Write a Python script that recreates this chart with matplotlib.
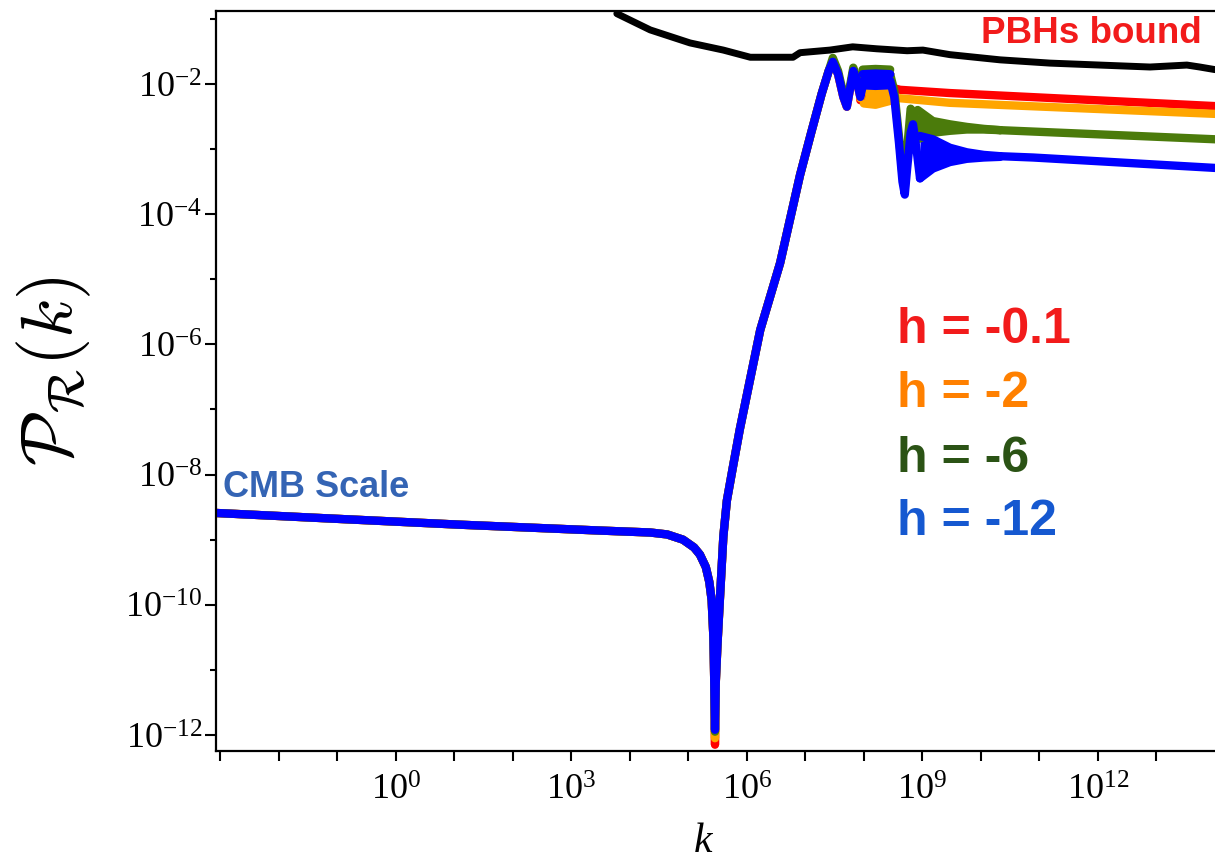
import numpy as np
import matplotlib.pyplot as plt
from matplotlib.ticker import FixedLocator, FuncFormatter, NullLocator, NullFormatter

plt.rcParams['mathtext.fontset'] = 'custom'
plt.rcParams['mathtext.rm'] = 'Liberation Serif'
plt.rcParams['mathtext.it'] = 'Liberation Serif:italic'

# ---- data (log10 k, log10 P) ----
# CMB plateau down into the dip, shared by every h
logk_left = [-3.07, -1.0, 1.10, 3.49, 4.35, 4.64, 4.91, 5.10, 5.20, 5.30, 5.36, 5.40, 5.43, 5.445]
logp_left = [-8.59, -8.68, -8.77, -8.86, -8.89, -8.92, -9.00, -9.12, -9.23, -9.42, -9.65, -9.93, -10.5, -11.2]

# bottom of the dip for each h
logk_dip = 5.457
dip_red, dip_orange, dip_green, dip_blue = -12.15, -12.05, -11.95, -11.92

# steep growth up to the first peak, shared
logk_rise = [5.47, 5.50, 5.54, 5.60, 5.66, 5.77, 5.88, 6.23, 6.57, 6.91, 7.10, 7.28, 7.40]
logp_rise = [-11.2, -10.6, -9.93, -8.95, -8.40, -7.85, -7.31, -5.78, -4.75, -3.40, -2.75, -2.15, -1.80]

# first peak and oscillations (h = -0.1, -2, -12 share this part)
logk_osc = [7.47, 7.56, 7.65, 7.71, 7.77, 7.82, 7.88, 7.94]
logp_osc = [-1.66, -1.85, -2.20, -2.35, -2.05, -1.80, -1.95, -2.20]
logp_osc_green = [-1.60, -1.80, -2.15, -2.30, -2.00, -1.75, -1.90, -2.15]

# h = -0.1
logk_red = [7.94, 8.00, 8.25, 8.45, 8.62, 9.47, 14.0]
logp_red = [-2.25, -2.00, -2.02, -2.05, -2.09, -2.14, -2.34]

# h = -2
logk_orange = [7.94, 8.00, 8.45, 8.62, 9.47, 14.0]
logp_orange = [-2.22, -2.05, -2.22, -2.22, -2.29, -2.46]
logk_orange_band = [8.00, 8.20, 8.45]
orange_band_lo = [-2.30, -2.32, -2.26]
orange_band_hi = [-2.05, -2.08, -2.12]

# h = -6
logk_green = [7.94, 8.00, 8.45, 8.52, 8.60, 8.66, 8.70, 8.74, 8.80, 8.86, 8.92]
logp_green = [-2.15, -1.90, -1.85, -2.10, -2.80, -3.40, -3.60, -3.00, -2.38, -2.45, -2.75]
logk_green_band = [8.92, 9.18, 9.47, 9.76, 10.05, 10.33]
green_band_lo = [-2.85, -2.75, -2.72, -2.70, -2.70, -2.71]
green_band_hi = [-2.40, -2.57, -2.62, -2.66, -2.69, -2.71]
logk_green_end = [10.33, 14.0]
logp_green_end = [-2.71, -2.85]

# h = -12
logk_blue = [7.94, 8.00, 8.45, 8.52, 8.60, 8.66, 8.70, 8.74, 8.80, 8.84, 8.90, 8.96]
logp_blue = [-2.20, -1.95, -1.95, -2.20, -2.90, -3.50, -3.70, -3.30, -2.75, -2.62, -3.00, -3.45]
logk_blue_band = [8.96, 9.18, 9.47, 9.76, 10.05, 10.33]
blue_band_lo = [-3.45, -3.30, -3.20, -3.15, -3.13, -3.12]
blue_band_hi = [-2.80, -2.85, -2.98, -3.05, -3.09, -3.11]
logk_blue_end = [10.33, 10.89, 14.0]
logp_blue_end = [-3.11, -3.13, -3.29]

# early fuzzy stretch after the first peak
logk_early_band = [7.98, 8.20, 8.45]
early_band_lo = [-2.02, -2.03, -2.02]
early_band_hi = [-1.85, -1.84, -1.85]

# PBH upper bound
logk_pbh = [3.78, 4.35, 5.03, 5.60, 6.06, 6.79, 6.91, 7.42, 7.81, 8.22, 8.74, 9.01, 9.47,
            10.33, 11.18, 12.03, 12.89, 13.52, 13.74, 14.0]
logp_pbh = [-0.92, -1.17, -1.37, -1.48, -1.59, -1.59, -1.52, -1.48, -1.43, -1.46, -1.49, -1.48, -1.55,
            -1.63, -1.68, -1.71, -1.74, -1.71, -1.74, -1.78]

c_red, c_orange, c_green, c_blue = '#ff0000', '#ffa500', '#4b7b0b', '#0000ff'
LW = 6


def full_curve(dip, osc_p, tail_k, tail_p):
    lk = logk_left + [logk_dip] + logk_rise + logk_osc + tail_k
    lp = logp_left + [dip] + logp_rise + osc_p + tail_p
    return 10.0 ** np.array(lk), 10.0 ** np.array(lp)


def line(ax, lk, lp, color, lw=LW):
    ax.plot(10.0 ** np.array(lk), 10.0 ** np.array(lp), color=color, lw=lw,
            solid_joinstyle='round', solid_capstyle='round')


def band(ax, lk, lo, hi, color):
    k = 10.0 ** np.array(lk)
    ax.fill_between(k, 10.0 ** np.array(lo), 10.0 ** np.array(hi), color=color, lw=0)
    line(ax, lk, lo, color)
    line(ax, lk, hi, color)


fig = plt.figure(figsize=(12.15, 8.63), dpi=100)
ax = fig.add_axes([0.1778, 0.1298, 0.8222, 0.8575])
ax.set_xscale('log')
ax.set_yscale('log')

# black PBH bound
line(ax, logk_pbh, logp_pbh, 'black', lw=5)

# h = -0.1
k, p = full_curve(dip_red, logp_osc, logk_red, logp_red)
ax.plot(k, p, color=c_red, lw=LW, solid_joinstyle='round', solid_capstyle='round')
band(ax, logk_early_band, early_band_lo, early_band_hi, c_red)

# h = -2
k, p = full_curve(dip_orange, logp_osc, logk_orange, logp_orange)
ax.plot(k, p, color=c_orange, lw=LW, solid_joinstyle='round', solid_capstyle='round')
band(ax, logk_orange_band, orange_band_lo, orange_band_hi, c_orange)

# h = -6
k, p = full_curve(dip_green, logp_osc_green, logk_green, logp_green)
ax.plot(k, p, color=c_green, lw=LW, solid_joinstyle='round', solid_capstyle='round')
band(ax, logk_early_band, [v + 0.05 for v in early_band_lo], [v + 0.07 for v in early_band_hi], c_green)
band(ax, logk_green_band, green_band_lo, green_band_hi, c_green)
line(ax, logk_green_end, logp_green_end, c_green)

# h = -12
k, p = full_curve(dip_blue, logp_osc, logk_blue, logp_blue)
ax.plot(k, p, color=c_blue, lw=LW, solid_joinstyle='round', solid_capstyle='round')
band(ax, logk_early_band, early_band_lo, early_band_hi, c_blue)
band(ax, logk_blue_band, blue_band_lo, blue_band_hi, c_blue)
line(ax, logk_blue_end, logp_blue_end, c_blue)

ax.set_xlim(10 ** -3.068, 10 ** 14.0)
ax.set_ylim(10 ** -12.246, 10 ** -0.879)

# ticks: every decade on k, labels every third decade (10^0 .. 10^12)
x_labelled = [0, 3, 6, 9, 12]
ax.xaxis.set_major_locator(FixedLocator(10.0 ** np.arange(-3, 14)))
ax.xaxis.set_minor_locator(NullLocator())
ax.xaxis.set_major_formatter(FuncFormatter(
    lambda v, pos: r'$10^{%d}$' % round(np.log10(v)) if round(np.log10(v)) in x_labelled else ''))
ax.yaxis.set_major_locator(FixedLocator(10.0 ** np.arange(-12, -1, 2)))
ax.yaxis.set_minor_locator(FixedLocator(10.0 ** np.arange(-11, 0, 2)))
ax.yaxis.set_major_formatter(FuncFormatter(lambda v, pos: r'$10^{%d}$' % round(np.log10(v))))
ax.yaxis.set_minor_formatter(NullFormatter())

ax.tick_params(which='both', direction='out', width=1.5, labelsize=26, colors='black')
ax.tick_params(axis='x', which='major', length=7, pad=9)
ax.tick_params(axis='y', which='major', length=8, pad=2)
ax.tick_params(axis='y', which='minor', length=4.5)

ax.spines['right'].set_visible(False)
for s in ['left', 'bottom', 'top']:
    ax.spines[s].set_linewidth(1.6)

# axis labels
fig.text(54 / 1215, 1 - 371 / 863, r'$\mathcal{P}_{\mathcal{R}}(k)$', rotation=90,
         ha='center', va='center', fontsize=52, math_fontfamily='cm')
fig.text(704 / 1215, 1 - 840 / 863, r'$k$', ha='center', va='center', fontsize=30)

# annotations
bold = dict(family='Liberation Sans', weight='bold')
fig.text(1202 / 1215, 1 - 43 / 863, 'PBHs bound', color='#f21b1b', fontsize=26.5,
         ha='right', va='baseline', **bold)
fig.text(223 / 1215, 1 - 497 / 863, 'CMB Scale', color='#3464b4', fontsize=26,
         ha='left', va='baseline', **bold)
legend_labels = ['h = -0.1', 'h = -2', 'h = -6', 'h = -12']
legend_colors = ['#f21b1b', '#ff8000', '#2b5315', '#1558d0']
legend_base = [343, 407, 472, 535]
for lab, col, yb in zip(legend_labels, legend_colors, legend_base):
    fig.text(897 / 1215, 1 - yb / 863, lab, color=col, fontsize=36,
             ha='left', va='baseline', **bold)

fig.savefig('out.png', dpi=100)
